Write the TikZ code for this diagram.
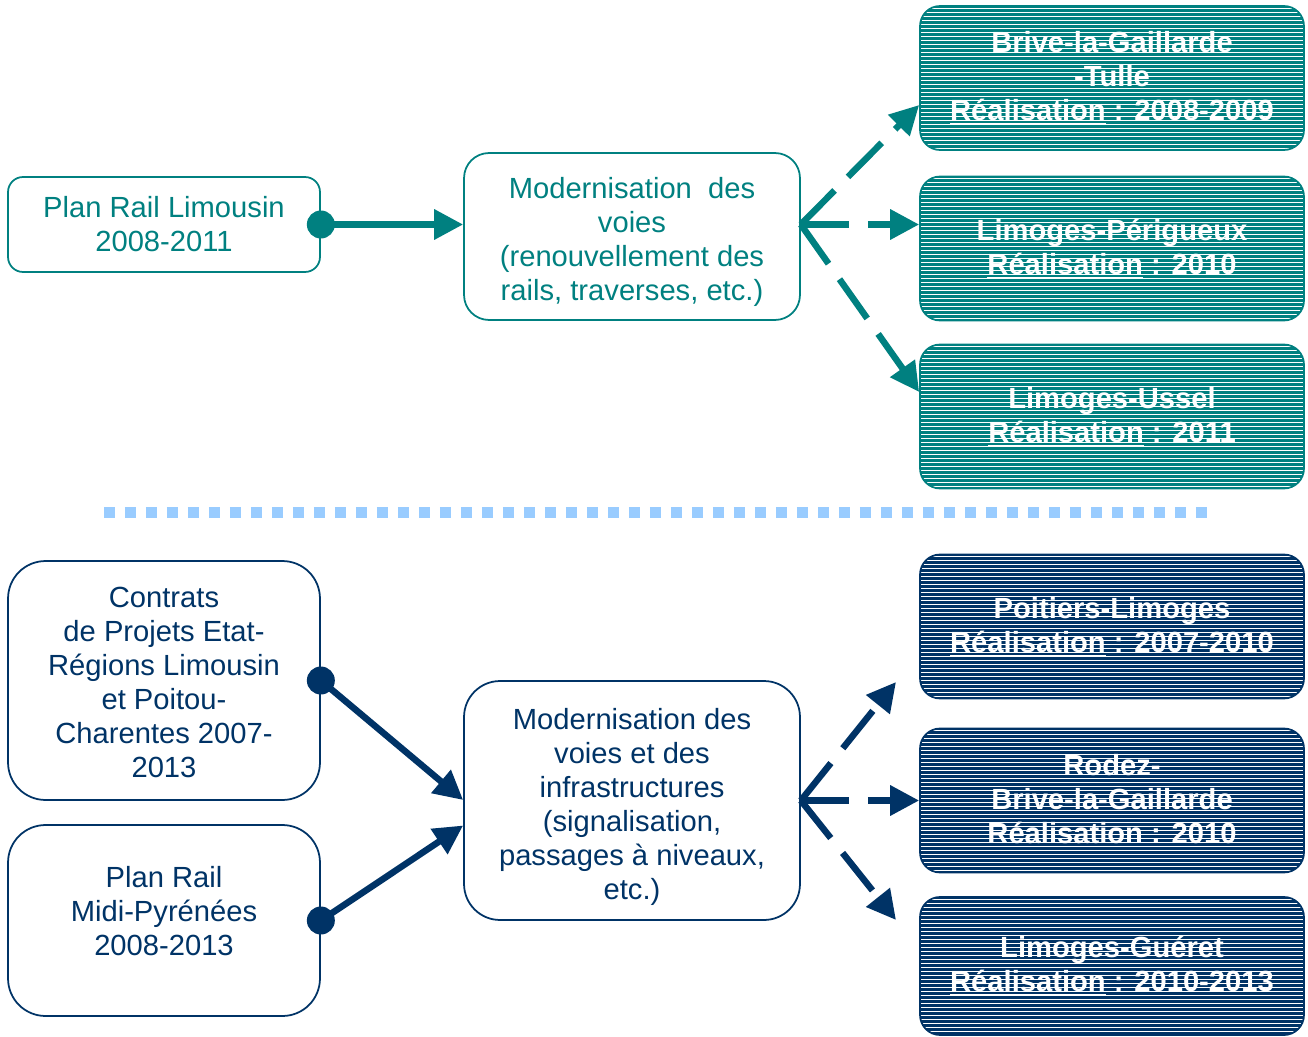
\documentclass[tikz,border=0pt]{standalone}
\usepackage{fontspec}
\setmainfont{Liberation Sans}
\usetikzlibrary{arrows.meta,calc}

\definecolor{railteal}{RGB}{0,128,128}
\definecolor{railnavy}{RGB}{0,51,102}
\definecolor{sepblue}{RGB}{153,204,255}

\tikzset{
    txt/.style={font=\fontsize{16.6}{19.35}\selectfont, align=center, inner sep=0pt},
    srcbox/.style={txt, draw=#1, text=#1, line width=1pt, rectangle},
    resbox/.style={txt, fill=#1, draw=#1, line width=1pt, text=white,
        font=\fontsize{16.6}{19.35}\selectfont\bfseries,
        minimum width=7.68cm, minimum height=2.88cm, rounded corners=0.4cm,
        path picture={
            \foreach \k in {0,...,37}
                \draw[white, line width=0.55pt]
                    ([yshift=-\k*0.08cm-0.04cm]path picture bounding box.north west) -- ++(10cm,0);
        }},
    link/.style={#1, line width=0.13cm, -{Triangle[length=0.58cm,width=0.58cm]}},
    dlink/.style={link=#1, dash pattern=on 0.96cm off 0.38cm}
}

\begin{document}
\begin{tikzpicture}[x=0.02cm, y=-0.02cm]
    \useasboundingbox (0,0) rectangle (1308,1037);

    % Top part: Plan Rail Limousin
    \node[srcbox=railteal, minimum width=6.24cm, minimum height=1.9cm, rounded corners=0.3cm]
        (limousin) at (164,224.5) {Plan Rail Limousin\\2008-2011};
    \node[srcbox=railteal, minimum width=6.72cm, minimum height=3.34cm, rounded corners=0.5cm]
        (voies) at (632,236.5) {Modernisation\ \ des\\voies\\(renouvellement des\\rails, traverses, etc.)\\[-0.78cm]};

    \node[resbox=railteal] (brive) at (1112,78)
        {Brive-la-Gaillarde\\-Tulle\\\underline{Réalisation} : 2008-2009};
    \node[resbox=railteal] (perigueux) at (1112,248.5)
        {Limoges-Périgueux\\\underline{Réalisation} : 2010};
    \node[resbox=railteal] (ussel) at (1112,416.5)
        {Limoges-Ussel\\\underline{Réalisation} : 2011};

    \coordinate (voiesin) at (limousin.east -| voies.west);
    \coordinate (voiesout) at (limousin.east -| voies.east);

    \draw[link=railteal] (limousin.east) -- (voiesin);
    \fill[railteal] (limousin.east) circle[radius=0.28cm];

    \draw[dlink=railteal] (voiesout) -- ($(brive.west)+(0,27)$);
    \draw[dlink=railteal] (voiesout) -- (voiesout -| perigueux.west);
    \draw[dlink=railteal] (voiesout) -- ($(ussel.west)+(0,-24.5)$);

    % Separator
    \draw[sepblue, line width=0.22cm, dash pattern=on 0.22cm off 0.2cm] (104,512.5) -- (1207,512.5);

    % Bottom part: CPER and Plan Rail Midi-Pyrenees
    \node[srcbox=railnavy, minimum width=6.24cm, minimum height=4.78cm, rounded corners=0.75cm]
        (cper) at (164,680.5) {Contrats\\de Projets Etat-\\Régions Limousin\\et Poitou-\\Charentes 2007-\\2013\\[-0.74cm]};
    \node[srcbox=railnavy, minimum width=6.24cm, minimum height=3.82cm, rounded corners=0.75cm]
        (midipy) at (164,920.5) {Plan Rail\\Midi-Pyrénées\\2008-2013\\[-0.28cm]};
    \node[srcbox=railnavy, minimum width=6.72cm, minimum height=4.78cm, rounded corners=0.72cm]
        (infra) at (632,800.5) {Modernisation des\\voies et des\\infrastructures\\(signalisation,\\passages à niveaux,\\etc.)\\[-0.82cm]};

    \node[resbox=railnavy] (poitiers) at (1112,626.5)
        {Poitiers-Limoges\\\underline{Réalisation} : 2007-2010};
    \node[resbox=railnavy] (rodez) at (1112,800.5)
        {Rodez-\\Brive-la-Gaillarde\\\underline{Réalisation} : 2010};
    \node[resbox=railnavy, minimum height=2.76cm] (gueret) at (1112,966)
        {Limoges-Guéret\\\underline{Réalisation} : 2010-2013};

    \coordinate (uptip) at (896,682);
    \coordinate (downtip) at (896,920);

    \draw[link=railnavy] (cper.east) -- ($(infra.west)+(0,-0.5)$);
    \draw[link=railnavy] (midipy.east) -- ($(infra.west)+(0,25)$);
    \fill[railnavy] (cper.east) circle[radius=0.28cm];
    \fill[railnavy] (midipy.east) circle[radius=0.28cm];

    \draw[dlink=railnavy] (infra.east) -- (uptip);
    \draw[dlink=railnavy] (infra.east) -- (rodez.west);
    \draw[dlink=railnavy] (infra.east) -- (downtip);
\end{tikzpicture}
\end{document}
